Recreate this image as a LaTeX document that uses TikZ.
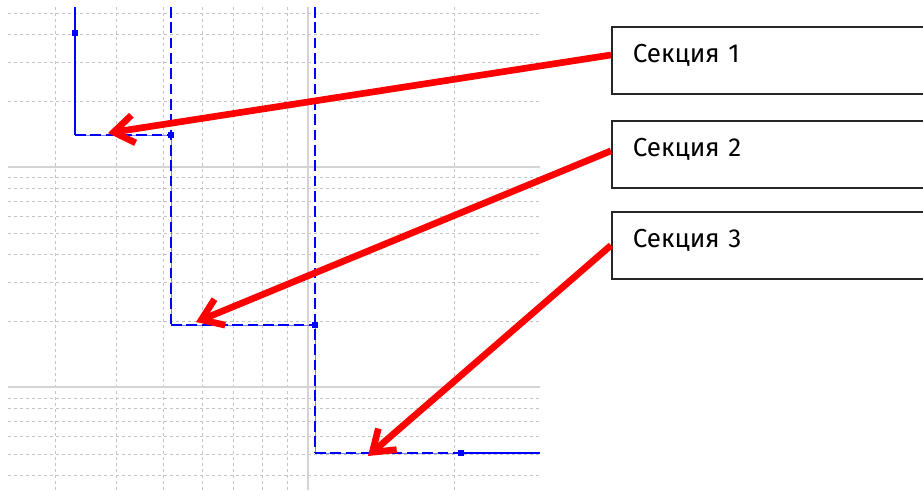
\documentclass[tikz,border=0pt]{standalone}
\usepackage{fontspec}
\setmainfont{Fira Sans}
\usetikzlibrary{arrows.meta}
\definecolor{gridgray}{RGB}{196,196,196}
\definecolor{axisgray}{RGB}{212,212,212}
\definecolor{curveblue}{RGB}{0,0,255}
\definecolor{callred}{RGB}{255,0,0}
\begin{document}
\begin{tikzpicture}[x=0.75pt,y=-0.75pt,
  minorgrid/.style={gridgray, line width=0.75pt, dash pattern=on 2.25pt off 2.25pt},
  majorgrid/.style={axisgray, line width=1.5pt},
  curve/.style={curveblue, line width=1.6pt},
  curvedash/.style={curveblue, line width=1.6pt, dash pattern=on 8pt off 3.5pt},
  curvethin/.style={curveblue!50, line width=0.75pt},
  marker/.style={fill=curveblue, minimum size=4.8pt, inner sep=0pt, draw=none, shape=rectangle},
  callout/.style={draw=black!85, line width=1.2pt, anchor=north west, inner xsep=15.75pt,
    inner ysep=0pt, text width=223.5pt, text height=27pt, text depth=23.25pt, align=left,
    font=\fontsize{19.5}{22}\selectfont},
  pointer/.style={callred, line width=5pt, -{Straight Barb[length=15pt,width=21pt]}}
]
\useasboundingbox (0,0) rectangle (923,490);
\clip (0,0) rectangle (923,490);

% minor grid lines (logarithmic subdivisions)
\foreach \gx in {55,116,163,202,233,262,287,454}
  \draw[minorgrid] (\gx,7) -- (\gx,490);
\foreach \gy in {13,34,62,101,177,188,201,216,233,254,282,321,398,408,421,436,454,475}
  \draw[minorgrid] (8,\gy) -- (540,\gy);

% decade lines
\draw[majorgrid] (308,7) -- (308,490);
\draw[majorgrid] (8,167) -- (540,167);
\draw[majorgrid] (8,387) -- (540,387);

% stepped curve
\draw[curvethin] (75,7) |- (171,135) |- (315,325) |- (540,453);
\draw[curve] (75,7) -- (75,135);
\draw[curvedash] (75,135) -- (171,135);
\draw[curvedash] (171,7) -- (171,325);
\draw[curvedash] (171,325) -- (315,325);
\draw[curvedash] (315,7) -- (315,453);
\draw[curvedash] (315,453) -- (461,453);
\draw[curve] (461,453) -- (540,453);

\node[marker] (m1) at (75,33) {};
\node[marker] (m2) at (171,135) {};
\node[marker] (m3) at (315,325) {};
\node[marker] (m4) at (461,453) {};

% arrow targets on the curve
\coordinate (t1) at (108,133);
\coordinate (t2) at (196,322);
\coordinate (t3) at (368,456);

% section labels
\node[callout] (b1) at (611,26) {Секция 1};
\node[callout] (b2) at (611,120) {Секция 2};
\node[callout] (b3) at (611,211) {Секция 3};

% pointers
\draw[pointer] ([yshift=4pt]b1.west) -- (t1);
\draw[pointer] ([yshift=2.6pt]b2.west) -- (t2);
\draw[pointer] (b3.west) -- (t3);
\end{tikzpicture}
\end{document}
